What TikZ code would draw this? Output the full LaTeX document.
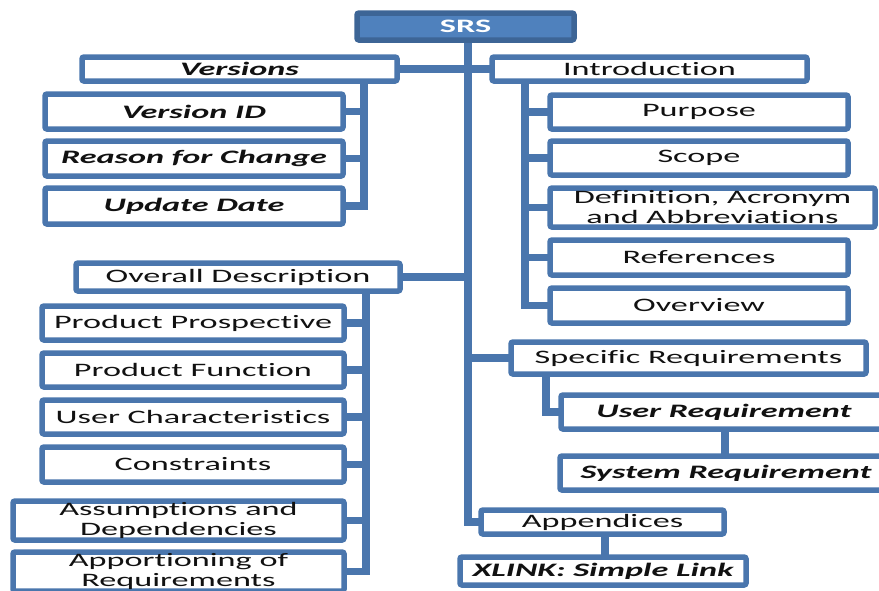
\documentclass[tikz,border=0pt]{standalone}
\usepackage{fontspec}
\newfontfamily\boxfont[FakeStretch=1.8, Ligatures={NoCommon,NoRequired,NoContextual}]{Carlito}
\usetikzlibrary{backgrounds}
\definecolor{boxblue}{HTML}{4A76AD}
\definecolor{rootfill}{HTML}{4F81BD}
\definecolor{rootedge}{HTML}{3D6596}
\definecolor{inktext}{HTML}{111111}
\tikzset{
  box/.style={draw=boxblue, line width=5.5pt, fill=white, rounded corners=2pt,
    inner sep=0pt, outer sep=0pt, align=center, text=inktext,
    font=\boxfont\fontsize{19}{20}\selectfont},
  rootbox/.style={box, draw=rootedge, fill=rootfill, text=white,
    font=\boxfont\bfseries\fontsize{19}{20}\selectfont},
  emph/.style={font=\boxfont\bfseries\itshape\fontsize{19}{20}\selectfont},
  link/.style={draw=boxblue, line width=7.5pt, line cap=butt, line join=miter},
}
\begin{document}
\begin{tikzpicture}[x=1pt, y=-1pt]
\useasboundingbox (0,0) rectangle (879,590);
\clip (0,0) rectangle (879,590);

% root
\node[rootbox, minimum width=217, minimum height=27] (srs) at (465.5,26.5) {SRS};

% versions branch
\node[box, emph, minimum width=315, minimum height=24] (ver) at (239.5,69) {Versions};
\node[box, emph, minimum width=298, minimum height=35] (vid) at (194,111.5) {Version ID};
\node[box, emph, minimum width=298, minimum height=35] (rfc) at (194,158.5) {Reason for Change};
\node[box, emph, minimum width=298, minimum height=36] (upd) at (194,206) {Update Date};

% introduction branch
\node[box, minimum width=315, minimum height=24] (intro) at (649.5,69) {Introduction};
\node[box, minimum width=298, minimum height=34] (pur) at (699,112) {Purpose};
\node[box, minimum width=298, minimum height=34] (sco) at (699,158) {Scope};
\node[box, minimum width=325, minimum height=39] (dfn) at (712.5,207.5) {Definition, Acronym\\and Abbreviations};
\node[box, minimum width=298, minimum height=35] (ref) at (699,257.5) {References};
\node[box, minimum width=298, minimum height=35] (ovw) at (699,305.5) {Overview};

% overall description branch
\node[box, minimum width=324, minimum height=28] (ovd) at (238,277) {Overall Description};
\node[box, minimum width=302, minimum height=34] (ppr) at (193,323) {Product Prospective};
\node[box, minimum width=302, minimum height=34] (pfn) at (193,370) {Product Function};
\node[box, minimum width=302, minimum height=34] (uch) at (193,417) {User Characteristics};
\node[box, minimum width=302, minimum height=35] (con) at (193,464.5) {Constraints};
\node[box, minimum width=331, minimum height=39] (asd) at (178.5,520.5) {Assumptions and\\Dependencies};
\node[box, minimum width=331, minimum height=39] (apr) at (178.5,571.5) {Apportioning of\\Requirements};

% specific requirements branch
\node[box, minimum width=355, minimum height=32] (spr) at (688.5,358) {Specific Requirements};
\node[box, emph, minimum width=326, minimum height=34] (urq) at (724,412) {User Requirement};
\node[box, emph, minimum width=332, minimum height=34] (srq) at (726,473) {System Requirement};

% appendices branch
\node[box, minimum width=243, minimum height=24] (app) at (602.5,522) {Appendices};
\node[box, emph, minimum width=286, minimum height=28] (xln) at (603,571) {XLINK: Simple Link};

% rails of the tree
\coordinate (trunk) at (468,0);
\coordinate (vrail) at (364,0);
\coordinate (irail) at (525,0);
\coordinate (orail) at (366,0);
\coordinate (srail) at (546,0);

\begin{scope}[on background layer]
  % main trunk
  \draw[link] (srs.south -| trunk) -- (app.west -| trunk) -- (app.west);
  \draw[link] (ver.east) -- (intro.west);
  \draw[link] (ovd.east) -- (ovd.east -| trunk);
  \draw[link] (spr.west -| trunk) -- (spr.west);
  % versions
  \draw[link] (ver.south -| vrail) -- (upd.east -| vrail) -- (upd.east);
  \draw[link] (vid.east) -- (vid.east -| vrail);
  \draw[link] (rfc.east) -- (rfc.east -| vrail);
  % introduction
  \draw[link] (intro.south -| irail) -- (ovw.west -| irail) -- (ovw.west);
  \draw[link] (pur.west) -- (pur.west -| irail);
  \draw[link] (sco.west) -- (sco.west -| irail);
  \draw[link] (dfn.west) -- (dfn.west -| irail);
  \draw[link] (ref.west) -- (ref.west -| irail);
  % overall description
  \draw[link] (ovd.south -| orail) -- (apr.east -| orail) -- (apr.east);
  \draw[link] (ppr.east) -- (ppr.east -| orail);
  \draw[link] (pfn.east) -- (pfn.east -| orail);
  \draw[link] (uch.east) -- (uch.east -| orail);
  \draw[link] (con.east) -- (con.east -| orail);
  \draw[link] (asd.east) -- (asd.east -| orail);
  % specific requirements
  \draw[link] (spr.south -| srail) -- (urq.west -| srail) -- (urq.west);
  \draw[link] (urq.south -| 725,0) -- (srq.north -| 725,0);
  % appendices
  \draw[link] (app.south -| 605,0) -- (xln.north -| 605,0);
\end{scope}
\end{tikzpicture}
\end{document}
